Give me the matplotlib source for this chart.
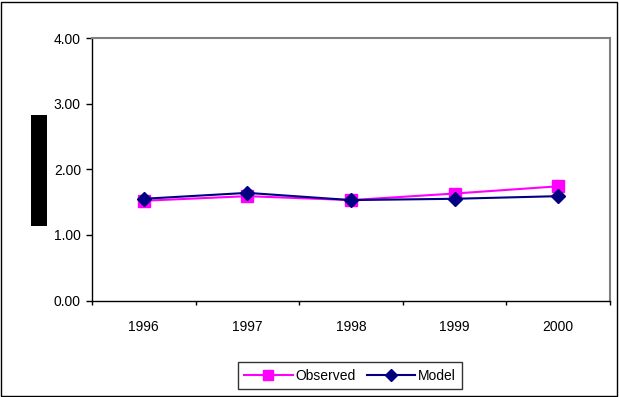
import matplotlib
matplotlib.use("Agg")
import matplotlib.pyplot as plt
from matplotlib.patches import Rectangle

years = ["1996", "1997", "1998", "1999", "2000"]
observed = [1.52, 1.59, 1.53, 1.63, 1.74]
model = [1.55, 1.64, 1.53, 1.55, 1.59]
yticks = [0.0, 1.0, 2.0, 3.0, 4.0]

plt.rcParams['font.family'] = ['Liberation Sans', 'DejaVu Sans']

W, H = 619, 397
fig = plt.figure(figsize=(W / 100, H / 100), dpi=100)
ax = fig.add_axes([92 / W, 1 - 300.5 / H, (610 - 92) / W, (300.5 - 38) / H])

x = list(range(len(years)))
ax.plot(x, observed, color='#FF00FF', lw=1.5, marker='s', ms=9,
        markerfacecolor='#FF00FF', markeredgecolor='#FF00FF', label='Observed', zorder=3)
ax.plot(x, model, color='#000080', lw=1.5, marker='D', ms=7.5,
        markerfacecolor='#000080', markeredgecolor='#000080', label='Model', zorder=4)

ax.set_xlim(-0.5, len(years) - 0.5)
ax.set_ylim(0, 4)
ax.set_yticks(yticks)
ax.set_yticklabels([f"{v:.2f}" for v in yticks], fontsize=10)
ax.set_xticks(x)
ax.set_xticklabels(years, fontsize=10)
ax.tick_params(axis='x', length=0, pad=14)
ax.set_xticks([i - 0.5 for i in range(len(years) + 1)], minor=True)
ax.tick_params(axis='x', which='minor', length=3, width=1, direction='out', color='black')
ax.tick_params(axis='y', length=4, width=1, direction='out', pad=4)

for s in ['left', 'bottom']:
    ax.spines[s].set_color('black')
    ax.spines[s].set_linewidth(1)
for s in ['top', 'right']:
    ax.spines[s].set_color('#808080')
    ax.spines[s].set_linewidth(1.5)

leg = ax.legend(loc='center', bbox_to_anchor=(350 / W, 1 - 375.5 / H), bbox_transform=fig.transFigure,
                ncol=2, frameon=True, fancybox=False, edgecolor='black', fontsize=10,
                handlelength=3.5, handletextpad=0.2, columnspacing=0.8, borderpad=0.45,
                borderaxespad=0, markerscale=0.75)
leg.get_frame().set_linewidth(1)

# redacted axis label block
fig.add_artist(Rectangle((31 / W, 1 - 226 / H), 16 / W, 111 / H, transform=fig.transFigure,
                         facecolor='black', edgecolor='none'))
# outer frame
fig.add_artist(Rectangle((1 / W, 1 / H), (W - 3) / W, (H - 3) / H, transform=fig.transFigure,
                         facecolor='none', edgecolor='black', lw=1))

fig.savefig("out.png", dpi=100)
